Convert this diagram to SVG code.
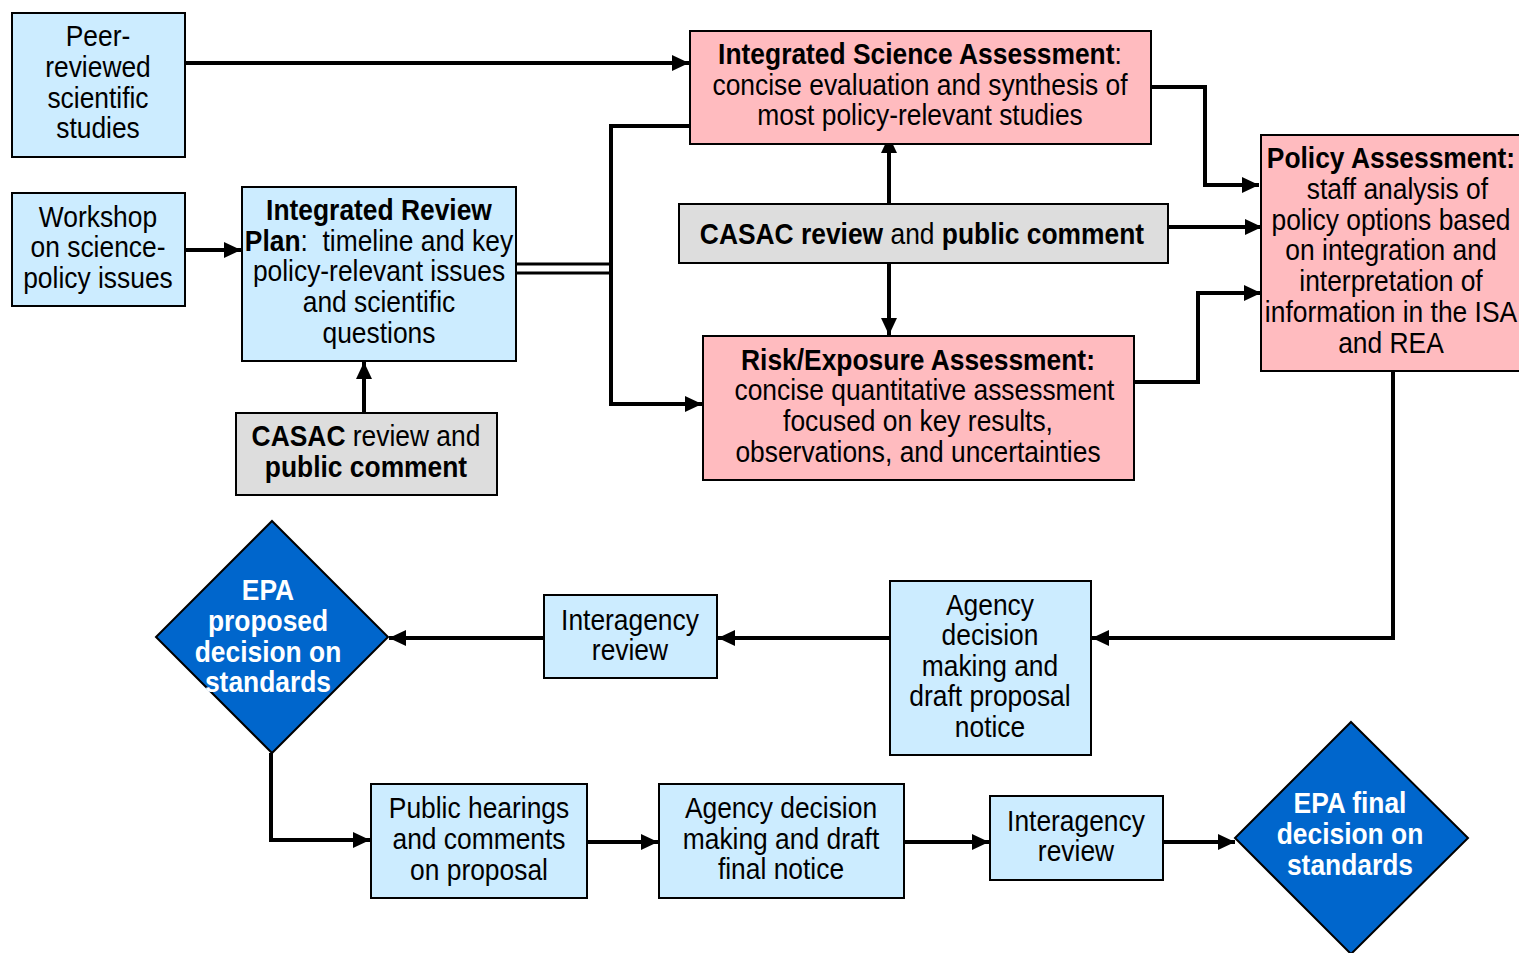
<svg xmlns="http://www.w3.org/2000/svg" width="1519" height="953" viewBox="0 0 1519 953">
<defs>
<marker id="arr" markerUnits="userSpaceOnUse" markerWidth="18" markerHeight="16" refX="17" refY="8" orient="auto">
<path d="M0,0 L17,8 L0,16 z" fill="#000"/>
</marker>
<style>
.blue{fill:#CCECFF;stroke:#000;stroke-width:2}
.pink{fill:#FFBBBF;stroke:#000;stroke-width:2}
.gray{fill:#DDDDDD;stroke:#000;stroke-width:2}
.dia{fill:#0066CC;stroke:#000;stroke-width:2}
text{font-family:"Liberation Sans","Arial",sans-serif;font-size:29px;text-anchor:middle;fill:#000}
.b{font-weight:bold}
.w{fill:#fff}
.ca{fill:none;stroke:#000;stroke-width:4;marker-end:url(#arr)}
</style>
</defs>
<rect width="1519" height="953" fill="#fff"/>
<g id="connectors">
<line class="ca" x1="185" y1="63" x2="689" y2="63"/>
<line class="ca" x1="185" y1="250" x2="241" y2="250"/>
<line x1="516" y1="264" x2="611" y2="264" stroke="#000" stroke-width="3"/>
<line x1="516" y1="273" x2="611" y2="273" stroke="#000" stroke-width="3"/>
<polyline class="ca" points="689,126 611,126 611,404 702,404"/>
<line class="ca" x1="364" y1="413" x2="364" y2="362"/>
<line class="ca" x1="889" y1="204" x2="889" y2="136"/>
<line class="ca" x1="889" y1="263" x2="889" y2="335"/>
<line class="ca" x1="1168" y1="227" x2="1262" y2="227"/>
<polyline class="ca" points="1151,87 1205,87 1205,185 1259,185"/>
<polyline class="ca" points="1134,382 1198,382 1198,293 1261,293"/>
<polyline class="ca" points="1393,371 1393,638 1092,638"/>
<line class="ca" x1="890" y1="638" x2="718" y2="638"/>
<line class="ca" x1="544" y1="638" x2="389" y2="638"/>
<polyline class="ca" points="271,753 271,840 370,840"/>
<line class="ca" x1="587" y1="842" x2="658" y2="842"/>
<line class="ca" x1="904" y1="842" x2="989" y2="842"/>
<line class="ca" x1="1163" y1="842" x2="1235" y2="842"/>
</g>
<g id="peer">
<rect class="blue" x="12" y="13" width="173" height="144"/>
<g transform="matrix(0.91 0 0 1 8.82 0)">
<text x="98" y="46">Peer-</text>
<text x="98" y="77">reviewed</text>
<text x="98" y="108">scientific</text>
<text x="98" y="138">studies</text>
</g>
</g>
<g id="workshop">
<rect class="blue" x="12" y="193" width="173" height="113"/>
<g transform="matrix(0.91 0 0 1 8.82 0)">
<text x="98" y="227">Workshop</text>
<text x="98" y="257">on science-</text>
<text x="98" y="288">policy issues</text>
</g>
</g>
<g id="irp">
<rect class="blue" x="242" y="187" width="274" height="174"/>
<g transform="matrix(0.91 0 0 1 34.11 0)">
<text x="379" y="220" class="b">Integrated Review</text>
<text x="379" y="251"><tspan class="b">Plan</tspan>:&#160; timeline and key</text>
<text x="379" y="281">policy-relevant issues</text>
<text x="379" y="312">and scientific</text>
<text x="379" y="343">questions</text>
</g>
</g>
<g id="casac-left">
<rect class="gray" x="236" y="413" width="261" height="82"/>
<g transform="matrix(0.91 0 0 1 32.94 0)">
<text x="366" y="446"><tspan class="b">CASAC</tspan> review and</text>
<text x="366" y="477" class="b">public comment</text>
</g>
</g>
<g id="isa">
<rect class="pink" x="690" y="31" width="461" height="113"/>
<g transform="matrix(0.91 0 0 1 82.8 0)">
<text x="920" y="64"><tspan class="b">Integrated Science Assessment</tspan>:</text>
<text x="920" y="95">concise evaluation and synthesis of</text>
<text x="920" y="125">most policy-relevant studies</text>
</g>
</g>
<g id="casac-center">
<rect class="gray" x="679" y="204" width="489" height="59"/>
<g transform="matrix(0.91 0 0 1 82.98 0)">
<text x="922" y="244"><tspan class="b">CASAC review</tspan> and <tspan class="b">public comment</tspan></text>
</g>
</g>
<g id="rea">
<rect class="pink" x="703" y="336" width="431" height="144"/>
<g transform="matrix(0.91 0 0 1 82.62 0)">
<text x="918" y="370" class="b">Risk/Exposure Assessment:</text>
<text x="925" y="400">concise quantitative assessment</text>
<text x="918" y="431">focused on key results,</text>
<text x="918" y="462">observations, and uncertainties</text>
</g>
</g>
<g id="pa">
<rect class="pink" x="1261" y="135" width="262" height="236"/>
<g transform="matrix(0.91 0 0 1 125.19 0)">
<text x="1391" y="168" class="b">Policy Assessment:</text>
<text x="1398" y="199">staff analysis of</text>
<text x="1391" y="230">policy options based</text>
<text x="1391" y="260">on integration and</text>
<text x="1391" y="291">interpretation of</text>
<text x="1391" y="322">information in the ISA</text>
<text x="1391" y="353">and REA</text>
</g>
</g>
<g id="agency-proposal">
<rect class="blue" x="890" y="581" width="201" height="174"/>
<g transform="matrix(0.91 0 0 1 89.1 0)">
<text x="990" y="615">Agency</text>
<text x="990" y="645">decision</text>
<text x="990" y="676">making and</text>
<text x="990" y="706">draft proposal</text>
<text x="990" y="737">notice</text>
</g>
</g>
<g id="interagency1">
<rect class="blue" x="544" y="595" width="173" height="83"/>
<g transform="matrix(0.91 0 0 1 56.7 0)">
<text x="630" y="630">Interagency</text>
<text x="630" y="660">review</text>
</g>
</g>
<g id="epa-proposed">
<polygon class="dia" points="272,521 388,637 272,753 156,637"/>
<g transform="matrix(0.91 0 0 1 24.12 0)">
<text x="268" y="600" class="b w">EPA</text>
<text x="268" y="631" class="b w">proposed</text>
<text x="268" y="662" class="b w">decision on</text>
<text x="268" y="692" class="b w">standards</text>
</g>
</g>
<g id="public-hearings">
<rect class="blue" x="371" y="784" width="216" height="114"/>
<g transform="matrix(0.91 0 0 1 43.11 0)">
<text x="479" y="818">Public hearings</text>
<text x="479" y="849">and comments</text>
<text x="479" y="880">on proposal</text>
</g>
</g>
<g id="agency-final">
<rect class="blue" x="659" y="784" width="245" height="114"/>
<g transform="matrix(0.91 0 0 1 70.29 0)">
<text x="781" y="818">Agency decision</text>
<text x="781" y="849">making and draft</text>
<text x="781" y="879">final notice</text>
</g>
</g>
<g id="interagency2">
<rect class="blue" x="990" y="796" width="173" height="84"/>
<g transform="matrix(0.91 0 0 1 96.84 0)">
<text x="1076" y="831">Interagency</text>
<text x="1076" y="861">review</text>
</g>
</g>
<g id="epa-final">
<polygon class="dia" points="1351,722 1468,838 1351,954 1235,838"/>
<g transform="matrix(0.91 0 0 1 121.5 0)">
<text x="1350" y="813" class="b w">EPA final</text>
<text x="1350" y="844" class="b w">decision on</text>
<text x="1350" y="875" class="b w">standards</text>
</g>
</g>
</svg>
